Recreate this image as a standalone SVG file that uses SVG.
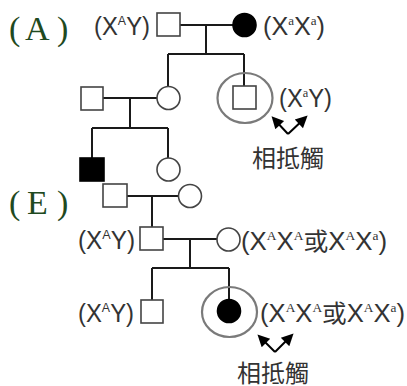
<svg xmlns="http://www.w3.org/2000/svg" width="407" height="386" viewBox="0 0 407 386">
  <style>
    .lbl { font-family: "Liberation Serif", serif; font-size: 34px; fill: #1f4a1f; }
    .g { font-family: "Liberation Sans", Arial, sans-serif; font-size: 25px; fill: #333; }
    .sup { font-size: 13px; font-family: "Liberation Serif", serif; }
    .supS { font-size: 13px; font-family: "Liberation Sans", sans-serif; }
    .cjk { font-family: "Liberation Sans", "Noto Sans CJK TC", sans-serif; font-size: 24px; fill: #333; }
    .m { fill: #fff; stroke: #444; stroke-width: 1.6; }
    .f { fill: #000; stroke: #000; stroke-width: 1.6; }
    .ring { fill: none; stroke: #7a7a7a; stroke-width: 2.2; }
    .ln { fill: none; stroke: #1a1a1a; stroke-width: 2; }
    .arr { fill: none; stroke: #000; stroke-width: 2; marker-end: url(#ah); }
  </style>
  <defs>
    <marker id="ah" viewBox="0 0 10 10" refX="7" refY="5" markerWidth="7" markerHeight="6" orient="auto">
      <path d="M0,0 L10,5 L0,10 z" fill="#000"/>
    </marker>
  </defs>

  <!-- panel labels -->
  <g id="label-A" class="lbl">
    <text x="9" y="40">(</text><text x="25" y="40">A</text><text x="57" y="40">)</text>
  </g>
  <g id="label-E" class="lbl">
    <text x="9" y="214">(</text><text x="27" y="214">E</text><text x="57" y="214">)</text>
  </g>

  <!-- connectors -->
  <g id="connectors">
    <!-- A: generation I -->
    <path class="ln" d="M180,25 H233 M206,25 V54 M168,54 H244 M168,54 V87 M244,54 V86"/>
    <!-- A: generation II -->
    <path class="ln" d="M103,98 H157 M130,98 V128 M92,128 H168 M92,128 V158 M168,128 V158"/>
    <!-- E: generation I -->
    <path class="ln" d="M127,196 H178 M152,196 V227"/>
    <!-- E: generation II -->
    <path class="ln" d="M163,239 H217 M190,239 V268 M152,268 H229 M152,268 V300 M229,268 V300"/>
    <!-- contradiction arrows -->
    <path class="arr" d="M288,134 L274,119"/>
    <path class="arr" d="M288,134 L305,118"/>
    <path class="arr" d="M275,352 L260,337"/>
    <path class="arr" d="M275,352 L291,336"/>
  </g>

  <!-- A: nodes -->
  <g id="A-father">
    <rect class="m" x="157" y="13" width="23" height="23"/>
    <text class="g" x="94" y="35" textLength="56" lengthAdjust="spacingAndGlyphs">(X<tspan class="supS" dy="-10">A</tspan><tspan dy="10">Y)</tspan></text>
  </g>
  <g id="A-mother">
    <circle class="f" cx="244.5" cy="25" r="11.5"/>
    <text class="g" x="263" y="35" textLength="62" lengthAdjust="spacingAndGlyphs">(X<tspan class="sup" dy="-10">a</tspan><tspan dy="10">X</tspan><tspan class="sup" dy="-10">a</tspan><tspan dy="10">)</tspan></text>
  </g>
  <g id="A-son-in-law">
    <rect class="m" x="81" y="87" width="22" height="23"/>
  </g>
  <g id="A-daughter">
    <circle class="m" cx="168.5" cy="98" r="11.5"/>
  </g>
  <g id="A-son">
    <ellipse class="ring" cx="245" cy="98" rx="27.5" ry="25"/>
    <rect class="m" x="233" y="86" width="23" height="23"/>
    <text class="g" x="279" y="107" textLength="53" lengthAdjust="spacingAndGlyphs">(X<tspan class="sup" dy="-10">a</tspan><tspan dy="10">Y)</tspan></text>
    <text class="cjk" x="252" y="167">相抵觸</text>
  </g>
  <g id="A-grandson">
    <rect class="f" x="80" y="158" width="24" height="23"/>
  </g>
  <g id="A-granddaughter">
    <circle class="m" cx="168.5" cy="169.5" r="11.5"/>
  </g>

  <!-- E: nodes -->
  <g id="E-father">
    <rect class="m" x="103" y="184" width="24" height="23"/>
  </g>
  <g id="E-mother">
    <circle class="m" cx="190" cy="196" r="11.5"/>
  </g>
  <g id="E-son">
    <rect class="m" x="140" y="227" width="23" height="23"/>
    <text class="g" x="78" y="249" textLength="57" lengthAdjust="spacingAndGlyphs">(X<tspan class="supS" dy="-10">A</tspan><tspan dy="10">Y)</tspan></text>
  </g>
  <g id="E-daughter-in-law">
    <circle class="m" cx="228.5" cy="239.5" r="11.5"/>
    <text class="g" x="241" y="250" textLength="146" lengthAdjust="spacingAndGlyphs">(X<tspan class="sup" dy="-10">A</tspan><tspan dy="10">X</tspan><tspan class="sup" dy="-10">A</tspan><tspan dy="10" class="cjk" style="font-size:24px">或</tspan>X<tspan class="sup" dy="-10">A</tspan><tspan dy="10">X</tspan><tspan class="sup" dy="-10">a</tspan><tspan dy="10">)</tspan></text>
  </g>
  <g id="E-grandson">
    <rect class="m" x="141" y="300" width="22" height="23"/>
    <text class="g" x="78" y="322" textLength="56" lengthAdjust="spacingAndGlyphs">(X<tspan class="supS" dy="-10">A</tspan><tspan dy="10">Y)</tspan></text>
  </g>
  <g id="E-granddaughter">
    <ellipse class="ring" cx="229.5" cy="312" rx="27.5" ry="25"/>
    <circle class="f" cx="229" cy="311" r="11.5"/>
    <text class="g" x="260" y="322" textLength="145" lengthAdjust="spacingAndGlyphs">(X<tspan class="sup" dy="-10">A</tspan><tspan dy="10">X</tspan><tspan class="sup" dy="-10">A</tspan><tspan dy="10" class="cjk" style="font-size:24px">或</tspan>X<tspan class="sup" dy="-10">A</tspan><tspan dy="10">X</tspan><tspan class="sup" dy="-10">a</tspan><tspan dy="10">)</tspan></text>
    <text class="cjk" x="237" y="382">相抵觸</text>
  </g>
</svg>
